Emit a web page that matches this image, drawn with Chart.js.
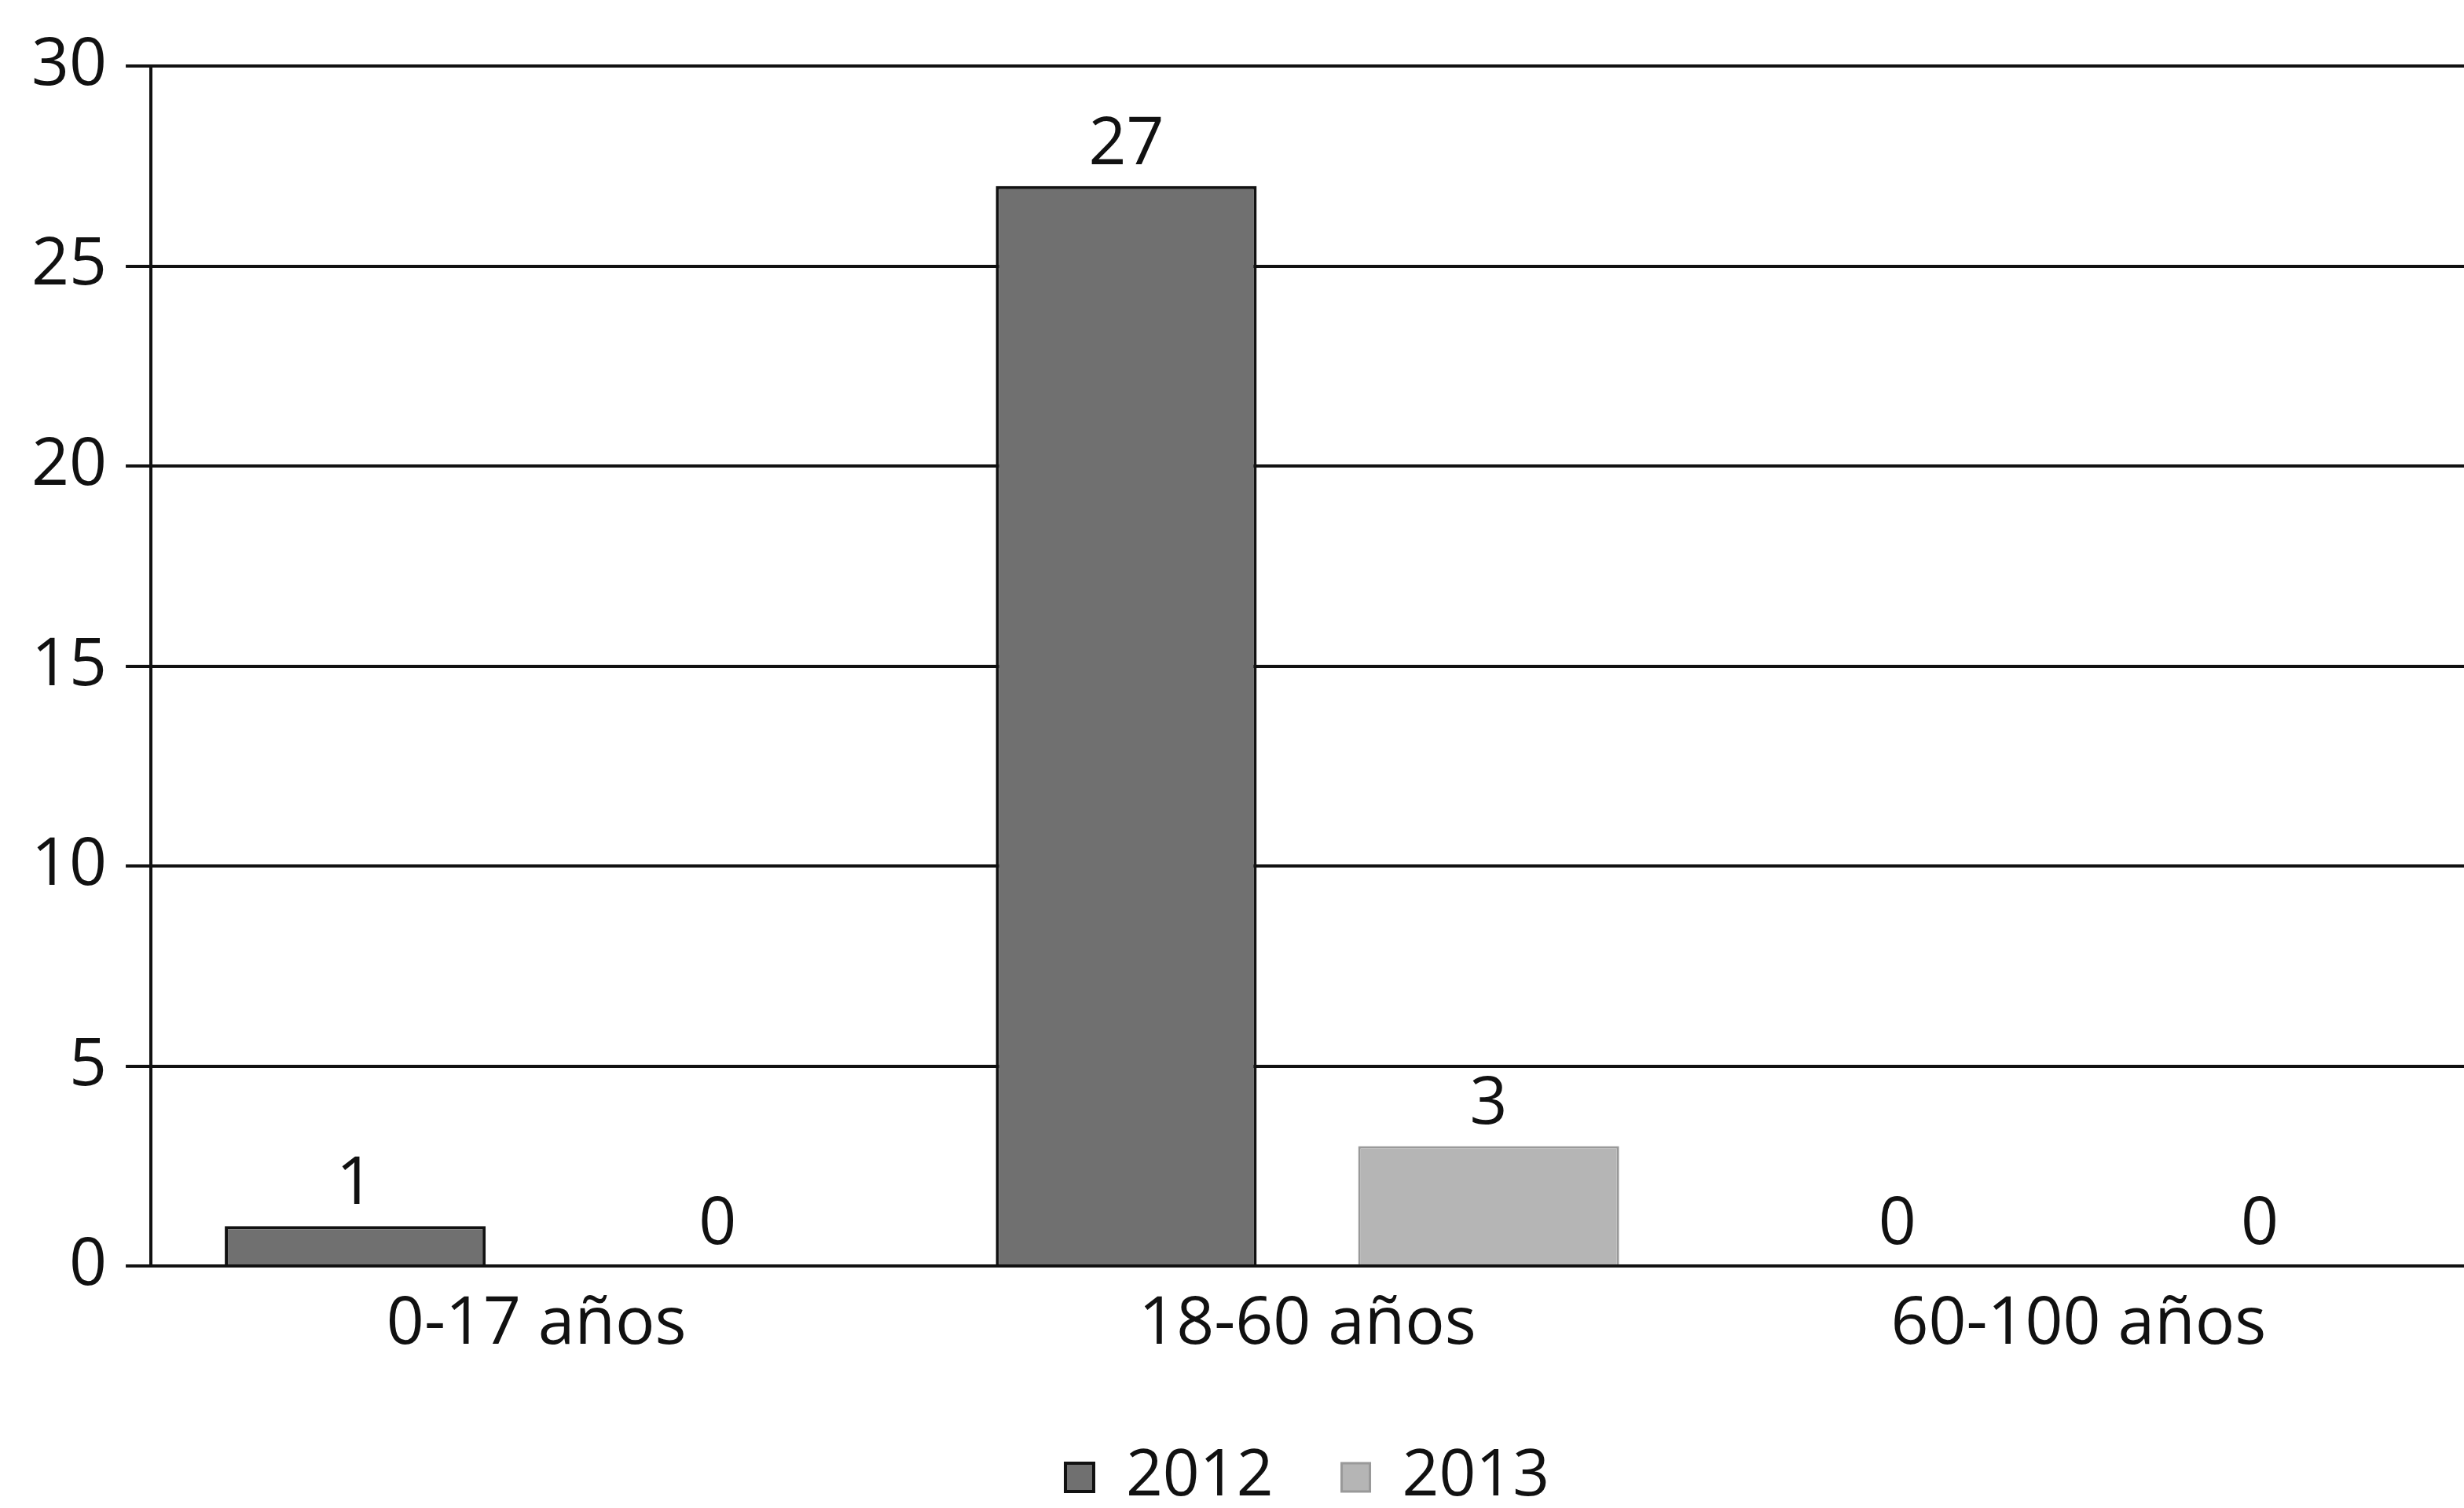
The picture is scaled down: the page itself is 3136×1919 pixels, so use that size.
<!DOCTYPE html>
<html>
<head>
<meta charset="utf-8">
<script src="https://cdn.jsdelivr.net/npm/chart.js@4/dist/chart.umd.min.js"></script>
<style>
  html, body { margin: 0; padding: 0; background: #fff; overflow: hidden; }
  #wrap { width: 3136px; height: 1931px; }
</style>
</head>
<body>
<div id="wrap"><canvas id="edadChart"></canvas></div>
<script>
const categorias = ['0-17 años', '18-60 años', '60-100 años'];
const series = ['2012', '2013'];
const valores2012 = [1, 27, 0];
const valores2013 = [0, 3, 0];
const yTicks = [0, 5, 10, 15, 20, 25, 30];

// etiquetas con el valor encima de cada barra
const etiquetasValor = {
    id: 'etiquetasValor',
    afterDatasetsDraw(chart) {
        const ctx = chart.ctx;
        ctx.save();
        ctx.font = '84px "Open Sans"';
        ctx.fillStyle = '#111';
        ctx.textAlign = 'center';
        ctx.textBaseline = 'bottom';
        chart.data.datasets.forEach((ds, i) => {
            chart.getDatasetMeta(i).data.forEach((bar, j) => {
                ctx.fillText(String(ds.data[j]), bar.x, bar.y - 10);
            });
        });
        ctx.restore();
    }
};

document.addEventListener("DOMContentLoaded", function () {
    const ctx = document.getElementById('edadChart');
    new Chart(ctx, {
        type: 'bar',
        data: {
            labels: categorias,
            datasets: [{
                label: series[0],
                data: valores2012,
                backgroundColor: '#707070',
                borderColor: '#111',
                borderWidth: 4,
                categoryPercentage: 0.94,
                barPercentage: 0.72
            }, {
                label: series[1],
                data: valores2013,
                backgroundColor: '#b5b5b5',
                borderColor: '#999',
                borderWidth: 3,
                categoryPercentage: 0.94,
                barPercentage: 0.72
            }]
        },
        options: {
            responsive: true,
            maintainAspectRatio: false,
            animation: false,
            layout: { padding: { top: 84, left: 16, right: 0, bottom: 0 } },
            plugins: {
                legend: {
                    position: 'bottom',
                    fullSize: false,
                    labels: {
                        color: '#111',
                        font: { family: 'Open Sans', size: 82 },
                        boxWidth: 36,
                        boxHeight: 36,
                        padding: 87
                    }
                },
                tooltip: { enabled: false }
            },
            scales: {
                x: {
                    grid: { display: false },
                    border: { display: true, color: '#111', width: 4 },
                    ticks: { color: '#111', font: { family: 'Open Sans', size: 84 }, padding: 16 }
                },
                y: {
                    min: 0,
                    max: 30,
                    afterBuildTicks: (axis) => { axis.ticks = yTicks.map(v => ({ value: v })); },
                    grid: { color: '#111', lineWidth: 4, tickLength: 32 },
                    border: { display: true, color: '#111', width: 4 },
                    ticks: { color: '#111', font: { family: 'Open Sans', size: 84 }, padding: 24 }
                }
            }
        },
        plugins: [etiquetasValor]
    });
});
</script>
</body>
</html>
